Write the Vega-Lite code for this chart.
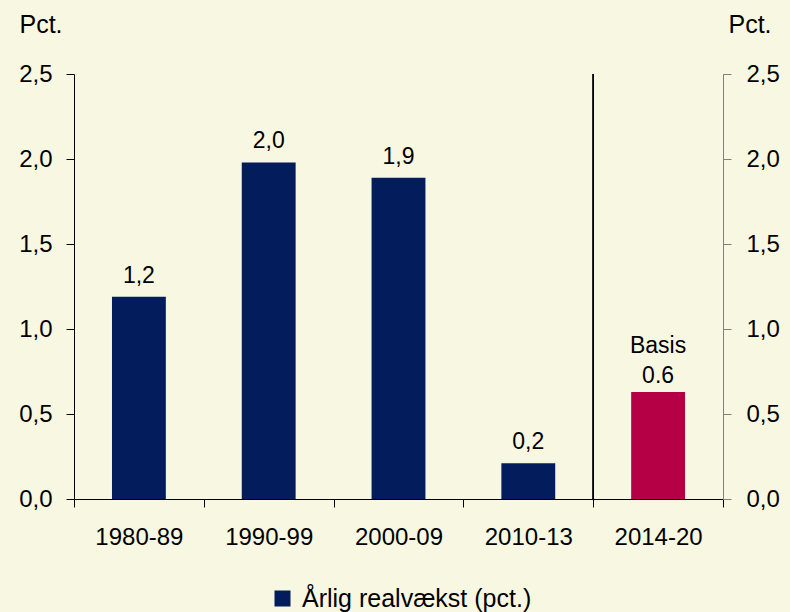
{
  "$schema": "https://vega.github.io/schema/vega-lite/v6.json",
  "width": 649,
  "height": 425,
  "autosize": "none",
  "padding": {"left": 74, "top": 74, "right": 67, "bottom": 113},
  "background": "#F8F8E2",
  "config": {"view": {"stroke": null}, "font": "Liberation Sans"},
  "data": {"values": [
    {"periode": "1980-89", "vaekst": 1.19, "label": "1,2", "serie": "Årlig realvækst (pct.)"},
    {"periode": "1990-99", "vaekst": 1.98, "label": "2,0", "serie": "Årlig realvækst (pct.)"},
    {"periode": "2000-09", "vaekst": 1.89, "label": "1,9", "serie": "Årlig realvækst (pct.)"},
    {"periode": "2010-13", "vaekst": 0.21, "label": "0,2", "serie": "Årlig realvækst (pct.)"},
    {"periode": "2014-20", "vaekst": 0.63, "label": "Basis\n0.6", "serie": "Basis"}
  ]},
  "encoding": {
    "x": {
      "field": "periode", "type": "nominal", "sort": null,
      "scale": {"paddingInner": 0, "paddingOuter": 0},
      "axis": {
        "title": null, "labelAngle": 0, "tickBand": "extent", "tickSize": 8,
        "tickColor": "#000000", "domainColor": "#000000", "labelColor": "#000000",
        "labelFontSize": 24, "labelPadding": 18, "labelFont": "Liberation Sans"
      }
    }
  },
  "layer": [
    {
      "mark": {"type": "bar", "width": {"band": 0.415}},
      "encoding": {
        "y": {
          "field": "vaekst", "type": "quantitative",
          "scale": {"domain": [0, 2.5], "nice": false},
          "axis": {
            "orient": "left", "values": [0, 0.5, 1, 1.5, 2, 2.5],
            "labelExpr": "replace(format(datum.value, '.1f'), '.', ',')",
            "grid": false, "tickSize": 8, "tickColor": "#000000", "domainColor": "#000000",
            "labelColor": "#000000", "labelFontSize": 24, "labelPadding": 14,
            "labelFont": "Liberation Sans",
            "title": "Pct.", "titleAngle": 0, "titleAlign": "left", "titleBaseline": "alphabetic",
            "titleX": -55, "titleY": -42, "titleFontSize": 25, "titleFontWeight": "normal",
            "titleColor": "#000000", "titleFont": "Liberation Sans"
          }
        },
        "color": {
          "field": "serie", "type": "nominal",
          "scale": {"domain": ["Årlig realvækst (pct.)", "Basis"], "range": ["#031C5B", "#B50046"]},
          "legend": {
            "title": null, "values": ["Årlig realvækst (pct.)"], "orient": "none",
            "legendX": 196, "legendY": 512, "symbolType": "square", "symbolSize": 256,
            "symbolStrokeWidth": 0, "labelFontSize": 25, "labelOffset": 7, "labelLimit": 500,
            "labelColor": "#000000", "labelFont": "Liberation Sans", "padding": 0
          }
        }
      }
    },
    {
      "transform": [{"filter": "datum.serie != 'Basis'"}],
      "mark": {"type": "text", "baseline": "alphabetic", "dy": -14, "fontSize": 23, "font": "Liberation Sans", "color": "#000000"},
      "encoding": {
        "y": {
          "field": "vaekst", "type": "quantitative",
          "scale": {"domain": [0, 2.5], "nice": false},
          "axis": {
            "orient": "right", "values": [0, 0.5, 1, 1.5, 2, 2.5],
            "labelExpr": "replace(format(datum.value, '.1f'), '.', ',')",
            "grid": false, "tickSize": 8, "tickColor": "#808080", "domainColor": "#808080",
            "labelColor": "#000000", "labelFontSize": 24, "labelPadding": 15,
            "labelFont": "Liberation Sans",
            "title": "Pct.", "titleAngle": 0, "titleAlign": "left", "titleBaseline": "alphabetic",
            "titleX": 5, "titleY": -42, "titleFontSize": 25, "titleFontWeight": "normal",
            "titleColor": "#000000", "titleFont": "Liberation Sans"
          }
        },
        "text": {"field": "label"}
      }
    },
    {
      "transform": [{"filter": "datum.serie == 'Basis'"}],
      "mark": {"type": "text", "baseline": "alphabetic", "dy": -39, "fontSize": 23, "lineBreak": "\n", "lineHeight": 30, "font": "Liberation Sans", "color": "#000000"},
      "encoding": {
        "y": {"field": "vaekst", "type": "quantitative", "scale": {"domain": [0, 2.5], "nice": false}, "axis": null},
        "text": {"field": "label"}
      }
    },
    {
      "mark": {"type": "rule", "color": "#000000", "strokeWidth": 1},
      "encoding": {
        "x": {"datum": "2014-20", "bandPosition": 0}
      }
    }
  ],
  "resolve": {"axis": {"y": "independent"}}
}
